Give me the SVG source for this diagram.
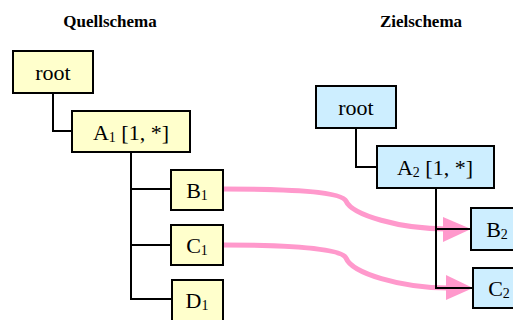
<svg xmlns="http://www.w3.org/2000/svg" width="513" height="320" viewBox="0 0 513 320">
<defs>
<style>
.src rect{fill:#ffffcc;stroke:#000;stroke-width:2}
.dst rect{fill:#cdeeff;stroke:#000;stroke-width:2}
text{font-family:"Liberation Serif","Times New Roman",serif;font-size:22px;fill:#000}
.lbl{text-anchor:middle}
.title{font-weight:bold;font-size:17px;text-anchor:middle}
.tree{fill:none;stroke:#000;stroke-width:2}
.map{fill:none;stroke:#ff99cc;stroke-width:5}
.head{fill:#ff99cc}
.sub{font-size:14px}
</style>
</defs>
<text class="title" x="110" y="27">Quellschema</text>
<text class="title" x="421" y="27">Zielschema</text>
<g id="mappings">
<path class="map" d="M223,189 C295,189 342,192 346,201 C352,215 400,229 447,229"/>
<polygon class="head" points="443,217 471,229 443,242"/>
<path class="map" d="M223,245 C295,245 342,249 346,258 C352,273 400,288 449,288"/>
<polygon class="head" points="446,275 473,288 446,300"/>
</g>
<g id="connectors">
<path class="tree" d="M53,93 V131 H72"/>
<path class="tree" d="M131,152 V299 H172 M131,189 H171 M131,245 H171"/>
<path class="tree" d="M356,128 V167 H377"/>
<path class="tree" d="M436,188 V288 H473 M436,229 H471"/>
</g>
<g id="src-root" class="src"><rect x="13" y="51" width="80" height="42"/><text class="lbl" x="53" y="80">root</text></g>
<g id="src-A1" class="src"><rect x="72" y="111" width="118" height="41"/><text class="lbl" x="131" y="140">A<tspan class="sub" dy="2">1</tspan><tspan dy="-2"> [1, *]</tspan></text></g>
<g id="src-B1" class="src"><rect x="171" y="170" width="52" height="40"/><text class="lbl" x="197" y="198">B<tspan class="sub" dy="2">1</tspan></text></g>
<g id="src-C1" class="src"><rect x="171" y="225" width="52" height="40"/><text class="lbl" x="197" y="253">C<tspan class="sub" dy="2">1</tspan></text></g>
<g id="src-D1" class="src"><rect x="172" y="280" width="51" height="44"/><text class="lbl" x="197" y="308">D<tspan class="sub" dy="2">1</tspan></text></g>
<g id="dst-root" class="dst"><rect x="316" y="86" width="80" height="42"/><text class="lbl" x="356" y="115">root</text></g>
<g id="dst-A2" class="dst"><rect x="377" y="146" width="117" height="42"/><text class="lbl" x="435" y="175">A<tspan class="sub" dy="2">2</tspan><tspan dy="-2"> [1, *]</tspan></text></g>
<g id="dst-B2" class="dst"><rect x="471" y="208" width="52" height="42"/><text class="lbl" x="497" y="237">B<tspan class="sub" dy="2">2</tspan></text></g>
<g id="dst-C2" class="dst"><rect x="473" y="268" width="52" height="40"/><text class="lbl" x="499" y="296">C<tspan class="sub" dy="2">2</tspan></text></g>
</svg>
